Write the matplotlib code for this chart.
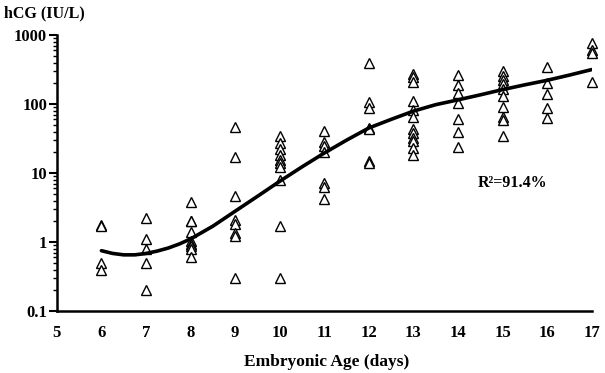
import matplotlib
matplotlib.use('Agg')
import matplotlib.pyplot as plt
import numpy as np

day6 = [1.75, 1.7, 0.5, 0.4]
day7 = [2.2, 1.1, 0.8, 0.5, 0.2]
day8 = [3.8, 2.05, 2.0, 1.4, 1.03, 0.94, 0.87, 0.8, 0.6]
day9 = [47, 17, 4.6, 2.1, 1.8, 1.35, 1.24, 0.3]
day10 = [35, 27, 22.5, 18.5, 15.5, 14, 12.3, 7.9, 1.7, 0.3]
day11 = [41, 28.5, 25, 20.5, 7.3, 6.3, 4.2]
day12 = [395, 108, 87, 45, 43, 15, 14]
day13 = [270, 245, 210, 110, 82, 65, 44, 38, 32, 29, 23, 18]
day14 = [260, 188, 146, 103, 60, 40, 24]
day15 = [298, 251, 221, 194, 163, 129, 90, 65, 59, 35]
day16 = [344, 199, 138, 87, 62]
day17 = [760, 610, 550, 210]
days = [6, 7, 8, 9, 10, 11, 12, 13, 14, 15, 16, 17]
groups = [day6, day7, day8, day9, day10, day11, day12, day13, day14, day15, day16, day17]

# fitted curve
fit_days = [6, 6.25, 6.5, 6.75, 7, 7.25, 7.5, 7.75, 8, 8.5, 9, 9.5, 10, 10.5, 11,
            11.5, 12, 12.5, 13, 13.5, 14, 14.5, 15, 15.5, 16, 16.5, 17]
fit_vals = [0.75, 0.685, 0.653, 0.653, 0.684, 0.74, 0.82, 0.94, 1.11, 1.7, 2.8, 4.6,
            7.6, 12.3, 19.5, 30, 45, 60, 79, 98, 115, 136, 162, 190, 221, 263, 316]

plt.rcParams['font.family'] = 'Liberation Serif'
plt.rcParams['font.weight'] = 'bold'

fig = plt.figure(figsize=(6.05, 3.73), dpi=100)
ax = fig.add_axes([0.094, 0.166, 0.884, 0.740])

for d, vals in zip(days, groups):
    ax.plot([d]*len(vals), vals, linestyle='none', marker='^', markersize=7.5,
            markerfacecolor='white', markeredgecolor='black', markeredgewidth=1.0,
            clip_on=False)

ax.plot(fit_days, fit_vals, color='black', linewidth=2.6, solid_capstyle='round',
        solid_joinstyle='round')

ax.set_yscale('log')
ax.set_ylim(0.1, 1000)
ax.set_xlim(5, 17)
ax.set_xticks(range(5, 18))
ax.set_yticks([0.1, 1, 10, 100, 1000])
ax.set_yticklabels(['0.1', '1', '10', '100', '1000'])
ax.spines['top'].set_visible(False)
ax.spines['right'].set_visible(False)
ax.spines['left'].set_linewidth(1.8)
ax.spines['bottom'].set_linewidth(1.8)
ax.tick_params(axis='x', length=0, pad=10, labelsize=12)
ax.tick_params(axis='y', which='major', length=6, width=1.5, direction='out', labelsize=12, pad=1)
ax.tick_params(axis='y', which='minor', length=3, width=1.0, direction='out')

fig.text(0.006, 0.965, 'hCG (IU/L)', fontsize=11.5, fontweight='bold', ha='left', va='center')
fig.text(0.54, 0.03, 'Embryonic Age (days)', fontsize=12.5, fontweight='bold', ha='center', va='center')
ax.text(14.45, 7.3, 'R²=91.4%', fontsize=11.5, fontweight='bold', ha='left', va='center')

fig.savefig('out.png', dpi=100)
